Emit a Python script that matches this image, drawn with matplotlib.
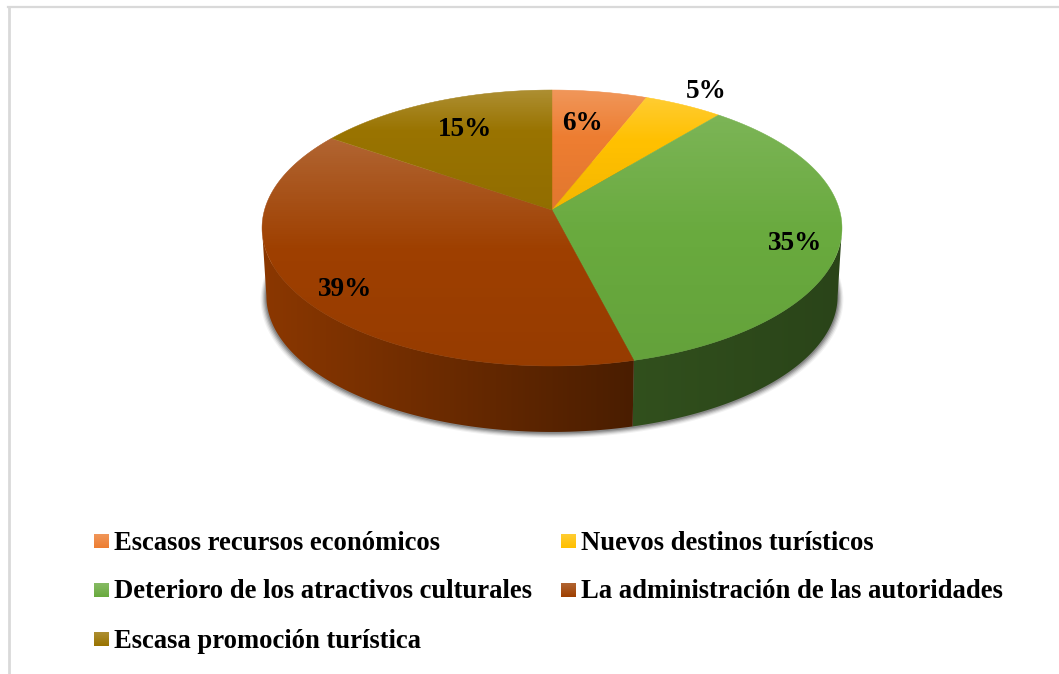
import numpy as np
import matplotlib
matplotlib.use('Agg')
import matplotlib.pyplot as plt
from matplotlib.patches import Polygon, Rectangle

categories = ['Escasos recursos económicos', 'Nuevos destinos turísticos',
              'Deterioro de los atractivos culturales',
              'La administración de las autoridades',
              'Escasa promoción turística']
values = [6, 5, 35, 38.6, 15.4]
colors = ['#ED7D31', '#FFC000', '#69AA3E', '#9E3F00', '#997300']

# where the percent labels sit, pixels
label_x = [582, 706, 795, 345, 465]
label_y = [123, 91, 243, 289, 130]
# strength and length of the light fade on each slice
fade_alpha = [0.2, 0.2, 0.13, 0.2, 0.2]
fade_len = [0.4, 0.4, 0.5, 0.5, 0.35]

plt.rcParams['font.family'] = ['Liberation Serif', 'DejaVu Serif']

cx, cy = 552, 210   # apex of the pie
k = 36 / 276        # perspective: back half is shorter than the front one
A = 287.5
B = 120 * (1 + k)
depth = 68.3
shrink = 0.985


def project(theta, scale=1.0, dy=0.0):
    # theta clockwise from the top of the pie
    px = np.sin(theta)
    py = np.cos(theta)
    w = 1 + k * py
    return cx + scale * A * px / w, cy + dy - scale * B * py / w


def rgb(c):
    return np.array(matplotlib.colors.to_rgb(c))


fig = plt.figure(figsize=(10.59, 6.74), dpi=100)
ax = fig.add_axes([0, 0, 1, 1])
ax.axis('off')

# frame lines of the original picture
ax.plot([8.5, 8.5], [7, 674], color='#d9d9d9', lw=2, zorder=1)
ax.plot([8, 1058], [7, 7], color='#d9d9d9', lw=1.6, zorder=1)

# soft shadow under the pie
t = np.linspace(0, 2 * np.pi, 400)
for s, off, al in [(1.020, 3.0, 0.06), (1.016, 2.5, 0.1), (1.012, 2.0, 0.15),
                   (1.008, 1.5, 0.2), (1.004, 1.0, 0.25)]:
    x, y = project(t, shrink * s, depth + off)
    ax.fill(x, y, color='#303030', alpha=al, lw=0, zorder=2)

edges = 2 * np.pi * np.cumsum([0] + values) / sum(values)

# side wall with a horizontal gradient, darker to the right
# only the front part between the two silhouette angles can be seen
t_right = np.arccos(-k)
t_left = 2 * np.pi - t_right
xs = np.linspace(262, 842, 300)
shade = np.interp(xs, [262, 630, 842], [0.88, 0.47, 0.40])
for i in range(len(values)):
    t0 = max(edges[i], t_right)
    t1 = min(edges[i + 1], t_left)
    if t1 <= t0:
        continue
    tt = np.linspace(t0, t1, 200)
    x1, y1 = project(tt)
    x2, y2 = project(tt[::-1], shrink, depth)
    poly = Polygon(np.c_[np.r_[x1, x2], np.r_[y1, y2]], closed=True,
                   fc='none', ec='none', zorder=3)
    ax.add_patch(poly)
    wall = np.outer(shade, rgb(colors[i])).reshape(1, -1, 3)
    im = ax.imshow(wall, extent=[262, 842, 460, 200], aspect='auto', zorder=3)
    im.set_clip_path(poly)

# top face, each slice has its own light fade at the top
for i in range(len(values)):
    tt = np.linspace(edges[i], edges[i + 1], 200)
    x, y = project(tt)
    x = np.r_[cx, x]
    y = np.r_[cy, y]
    poly = Polygon(np.c_[x, y], closed=True, fc=colors[i], ec=colors[i], lw=0.3, zorder=4)
    ax.add_patch(poly)
    top = y.min()
    bot = y.max()
    u = np.linspace(0, 1, 256)
    f = fade_len[i]
    grad = np.zeros((256, 1, 4))
    grad[:, 0, :3] = (u < f)[:, None]
    grad[:, 0, 3] = np.where(u < f, (1 - u / f) * fade_alpha[i], (u - f) / (1 - f) * 0.05)
    im = ax.imshow(grad, extent=[x.min(), x.max(), bot, top], aspect='auto', zorder=5)
    im.set_clip_path(poly)

for v, lx, ly in zip(values, label_x, label_y):
    ax.text(lx, ly, f'{round(v)}%', ha='center', va='center', fontsize=19.5,
            fontweight='bold', color='black', zorder=6)

# legend
legend_sw_x = [94, 561, 94, 561, 94]
legend_y = [541, 541, 590, 590, 639]
for c, name, sx, ly in zip(colors, categories, legend_sw_x, legend_y):
    ax.add_patch(Rectangle((sx, ly - 7), 15, 14, fc=c, ec='none', zorder=4))
    grad = np.ones((64, 1, 4))
    grad[:, 0, 3] = np.linspace(0.2, 0, 64)
    ax.imshow(grad, extent=[sx, sx + 15, ly + 7, ly - 7], aspect='auto', zorder=5)
    ax.text(sx + 20, ly + 2, name, ha='left', va='center', fontsize=19.2,
            fontweight='bold', color='black', zorder=6)

ax.set_xlim(0, 1059)
ax.set_ylim(674, 0)

plt.savefig('out.png', dpi=100)
